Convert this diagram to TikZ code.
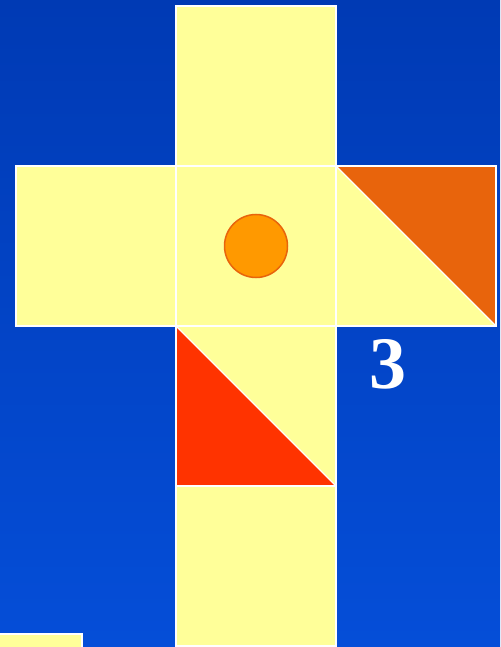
\documentclass[tikz,border=0pt]{standalone}
\usepackage{fontspec}
\setmainfont{Liberation Serif}
\definecolor{bgtop}{HTML}{003AB4}
\definecolor{bgbot}{HTML}{054ED8}
\definecolor{face}{HTML}{FFFF99}
\definecolor{orangetri}{HTML}{E8640C}
\definecolor{redtri}{HTML}{FF3300}
\definecolor{dotfill}{HTML}{FF9900}
\definecolor{dotline}{HTML}{E8640C}
\begin{document}
\begin{tikzpicture}[x=1pt,y=-1pt,
  facebox/.style={fill=face,draw=white,line width=1.6pt},
  tri/.style={draw=white,line width=1.2pt,line join=round}]
\useasboundingbox (0,0) rectangle (500,647);
\shade[top color=bgtop,bottom color=bgbot] (0,0) rectangle (500,647);
% faces of the net
\draw[facebox] (176,6) rectangle (336,166);
\draw[facebox] (16,166) rectangle (176,326);
\draw[facebox] (176,166) rectangle (336,326);
\draw[facebox] (336,166) rectangle (496,326);
\draw[facebox] (176,326) rectangle (336,486);
\draw[facebox] (176,486) rectangle (336,646);
% triangles
\fill[orangetri] (336,166) -- (496,166) -- (496,326) -- cycle;
\draw[tri] (337,167) -- (495,325);
\fill[redtri] (176,326) -- (176,486) -- (336,486) -- cycle;
\draw[tri] (177,327) -- (335,485);
\draw[draw=white,line width=1.6pt] (336,166) rectangle (496,326);
\draw[draw=white,line width=1.6pt] (176,326) rectangle (336,486);
% circle
\node[circle,minimum size=63pt,inner sep=0pt,fill=dotfill,draw=dotline,line width=1.5pt] (dot) at (256,246) {};
% label
\node[text=white,font=\bfseries\fontsize{74}{74}\selectfont,inner sep=0pt] (three) at (388,364) {3};
% small bar
\draw[fill=face,draw=white,line width=1.6pt] (-2,634) rectangle (82,650);
\end{tikzpicture}
\end{document}
